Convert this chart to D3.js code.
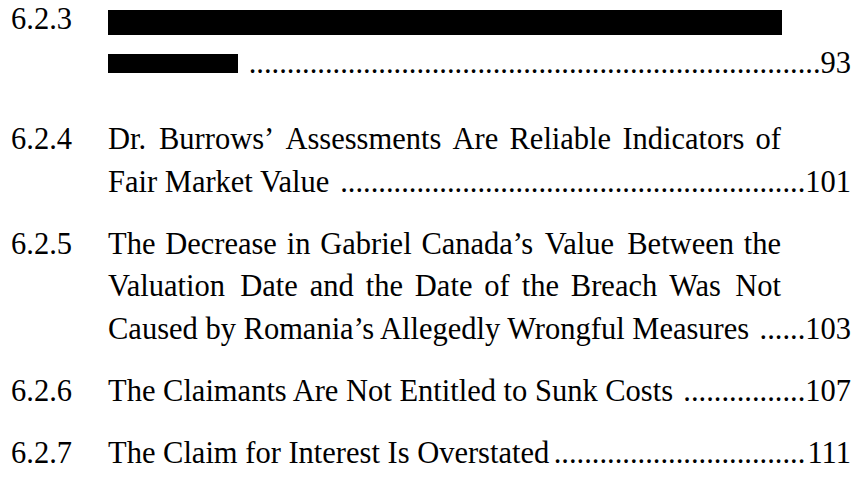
<!DOCTYPE html>
<html lang="en">
<head>
<meta charset="UTF-8">
<script src="https://d3js.org/d3.v7.min.js"></script>
<style>body{margin:0}</style>
</head>
<body>
<script>
    // Section numbers, heading lines and page numbers (null = redacted line)
    const sectionNumbers = ["6.2.3", "6.2.4", "6.2.5", "6.2.6", "6.2.7"];
    const sectionLines = [
        [null, null],
        ["Dr. Burrows’ Assessments Are Reliable Indicators of", "Fair Market Value"],
        ["The Decrease in Gabriel Canada’s Value Between the",
         "Valuation Date and the Date of the Breach Was Not",
         "Caused by Romania’s Allegedly Wrongful Measures"],
        ["The Claimants Are Not Entitled to Sunk Costs"],
        ["The Claim for Interest Is Overstated"]
    ];
    const pageNumbers = ["93", "101", "103", "107", "111"];

    const W = 863, H = 487;
    const fs = 30.5;
    const numX = 11, textX = 108, justifyRight = 781, pageRight = 851;
    const firstBaseline = 29, redactedGap = 44, firstEntryBaseline = 149;
    const lineGap = 42.5, entryGap = 19.5;
    // redaction bars: width of each redacted line
    const redactWidths = [674, 130];

    // Times/Liberation Serif advance widths (1/1000 em), so nothing has to be measured
    const adv = { " ": 250, ".": 250, "’": 333 };
    "ABCDEFGHIJKLMNOPQRSTUVWXYZ".split("").forEach((c, i) => adv[c] =
        [722,667,667,722,611,556,722,722,333,389,722,611,889,722,722,556,722,667,556,611,722,722,944,722,722,611][i]);
    "abcdefghijklmnopqrstuvwxyz".split("").forEach((c, i) => adv[c] =
        [444,500,444,500,444,333,500,500,278,278,500,278,778,500,500,500,500,333,389,278,500,500,722,500,500,444][i]);
    const width = str => d3.sum(str.split(""), c => adv[c] !== undefined ? adv[c] : 500) * fs / 1000;

    const svg = d3.select("body").append("svg")
        .attr("width", W)
        .attr("height", H);

    // flatten lines
    const rows = [];
    sectionLines.forEach((lines, e) => {
        lines.forEach((txt, i) => {
            rows.push({ entry: e, idx: i, last: i === lines.length - 1, text: txt });
        });
    });

    // baseline scale for the regular entries (line index -> y)
    const firstRegular = sectionLines[0].length;
    const y = d3.scaleLinear()
        .domain([firstRegular, firstRegular + 1])
        .range([firstEntryBaseline, firstEntryBaseline + lineGap]);

    rows.forEach((r, k) => {
        if (r.entry === 0) r.y = firstBaseline + k * redactedGap;
        else r.y = y(k) + (r.entry - 1) * entryGap;
    });

    // collect every text piece, then draw them in one join
    const pieces = [];
    rows.filter(r => r.idx === 0).forEach(r =>
        pieces.push({ x: numX, y: r.y, t: sectionNumbers[r.entry], a: "start" }));

    const bars = [];
    let redIdx = 0;
    rows.forEach(r => {
        let endX;
        if (r.text === null) {
            const w = redactWidths[redIdx++];
            bars.push({ y: r.y - 19, w: w, h: r.last ? 19 : 25 });
            endX = textX + w;
        } else if (!r.last) {
            // justified line
            const words = r.text.split(" ");
            const widths = words.map(width);
            const gap = (justifyRight - textX - d3.sum(widths)) / (words.length - 1);
            let x = textX;
            words.forEach((wd, i) => {
                pieces.push({ x: x, y: r.y, t: wd, a: "start" });
                x += widths[i] + gap;
            });
        } else {
            pieces.push({ x: textX, y: r.y, t: r.text, a: "start" });
            endX = textX + width(r.text);
        }
        if (r.last) {
            const num = pageNumbers[r.entry];
            const numStart = pageRight - width(num);
            pieces.push({ x: pageRight, y: r.y, t: num, a: "end" });
            const n = Math.floor((numStart - endX - 4) / width("."));
            pieces.push({ x: numStart, y: r.y, t: ".".repeat(Math.max(n, 0)), a: "end" });
        }
    });

    svg.selectAll("rect").data(bars).join("rect")
        .attr("x", textX)
        .attr("y", d => d.y)
        .attr("width", d => d.w)
        .attr("height", d => d.h)
        .attr("fill", "#000");

    svg.selectAll("text").data(pieces).join("text")
        .attr("x", d => d.x)
        .attr("y", d => d.y)
        .attr("font-size", fs)
        .attr("text-anchor", d => d.a)
        .style("font-family", '"Liberation Serif"')
        .text(d => d.t);
</script>
</body>
</html>
